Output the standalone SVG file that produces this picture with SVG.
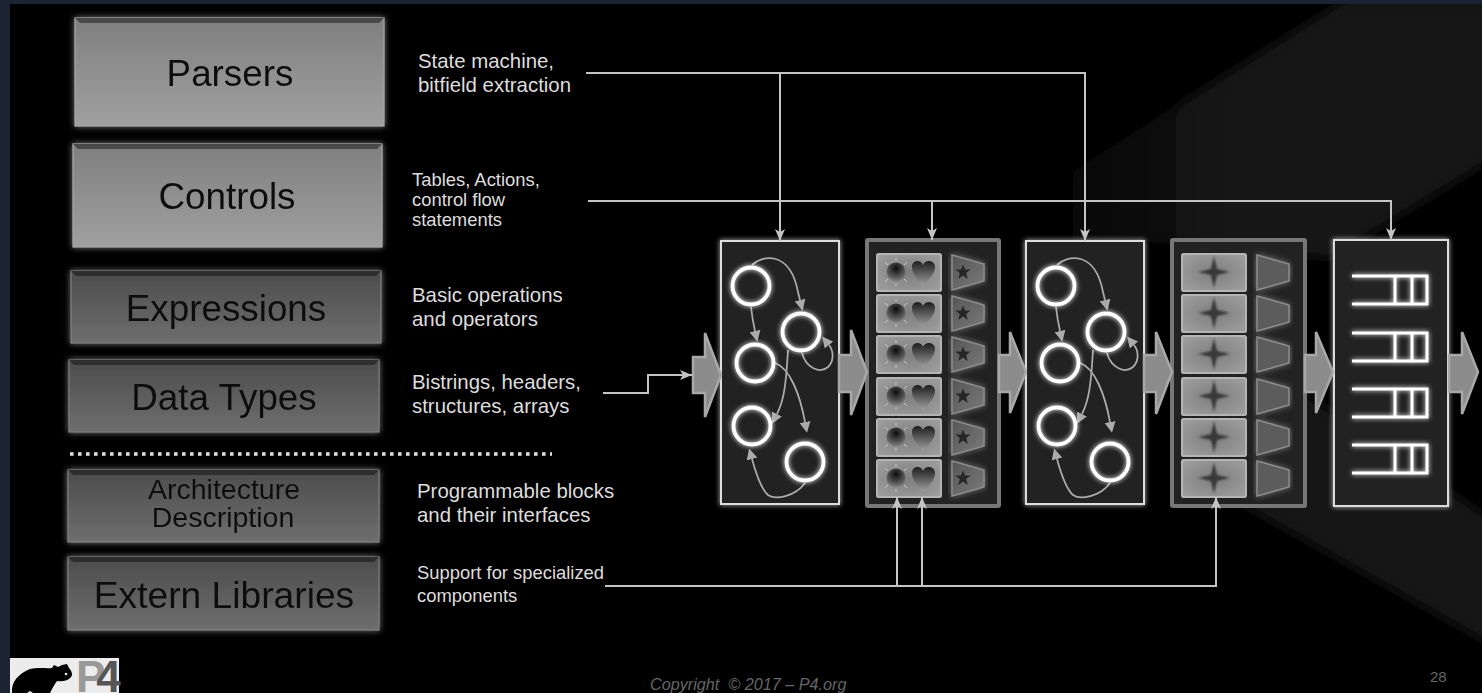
<svg xmlns="http://www.w3.org/2000/svg" width="1482" height="693" viewBox="0 0 1482 693">
<style>
text{font-family:"Liberation Sans",Arial,sans-serif}
.t36{font-size:36.8px;fill:#111;text-anchor:middle}
.t28{font-size:28.5px;fill:#111;text-anchor:middle}
.l20{font-size:20.4px;fill:#ddd}
.l18{font-size:18.4px;fill:#ddd}
.conn{fill:none;stroke:#c4c4c4;stroke-width:2}
.cur{fill:none;stroke:#aaa;stroke-width:1.8}
.st{fill:none;stroke:#fff;stroke-width:3.8}
.big{fill:#8c8c8c;stroke:#a8a8a8;stroke-width:2.5}
.cell{fill:url(#cellg);stroke:#b4b4b4;stroke-width:2}
.bev1{stroke:#a9a9a9;stroke-width:1.2;fill:url(#light)}
.bev2{stroke:#808080;stroke-width:1.2;fill:url(#dark)}
</style>
<defs>
<linearGradient id="light" x1="0" y1="0" x2="0" y2="1"><stop offset="0" stop-color="#7f7f7f"/><stop offset="1" stop-color="#a0a0a0"/></linearGradient>
<linearGradient id="dark" x1="0" y1="0" x2="0" y2="1"><stop offset="0" stop-color="#4c4c4c"/><stop offset="1" stop-color="#6e6e6e"/></linearGradient>
<radialGradient id="cellg" cx="0.5" cy="0.5" r="0.7"><stop offset="0" stop-color="#7e7e7e"/><stop offset="1" stop-color="#a0a0a0"/></radialGradient>
<linearGradient id="bgTop" gradientUnits="userSpaceOnUse" x1="1020" y1="0" x2="1230" y2="0"><stop offset="0" stop-color="#161616" stop-opacity="0"/><stop offset="1" stop-color="#161616"/></linearGradient>
<radialGradient id="sun" cx="0.5" cy="0.3" r="0.75"><stop offset="0" stop-color="#0c0c0c"/><stop offset="0.7" stop-color="#606060"/><stop offset="1" stop-color="#8e8e8e"/></radialGradient>
<linearGradient id="hrt" x1="0" y1="0" x2="0" y2="1"><stop offset="0" stop-color="#1e1e1e"/><stop offset="1" stop-color="#a0a0a0"/></linearGradient>
<linearGradient id="trg" x1="0" y1="0" x2="1" y2="1"><stop offset="0" stop-color="#555"/><stop offset="1" stop-color="#7a7a7a"/></linearGradient>
<filter id="fade" x="-10%" y="-10%" width="120%" height="120%"><feGaussianBlur stdDeviation="6"/></filter>
<filter id="blur1" x="-20%" y="-20%" width="140%" height="140%"><feGaussianBlur stdDeviation="0.9"/></filter>
<filter id="glow" x="-10%" y="-10%" width="120%" height="120%"><feGaussianBlur stdDeviation="2.5" result="b"/><feMerge><feMergeNode in="b"/><feMergeNode in="SourceGraphic"/></feMerge></filter>
<filter id="soft" x="-10%" y="-20%" width="120%" height="140%"><feGaussianBlur in="SourceAlpha" stdDeviation="3" result="a"/><feFlood flood-color="#777"/><feComposite in2="a" operator="in" result="c"/><feMerge><feMergeNode in="c"/><feMergeNode in="SourceGraphic"/></feMerge></filter>
<marker id="tri" markerUnits="userSpaceOnUse" viewBox="0 0 10 10" markerWidth="11" markerHeight="11" refX="0" refY="5" orient="auto"><path d="M0,0L10,5L0,10z" fill="#aaa"/></marker>
<marker id="head" markerUnits="userSpaceOnUse" viewBox="0 0 12 12" markerWidth="12" markerHeight="12" refX="12" refY="6" orient="auto"><path d="M0,1L12,6L0,11L3,6z" fill="#c4c4c4"/></marker>
<polygon id="star" points="0,-7.5 2,-2.4 7.5,-2.4 3.2,1 4.7,7 0,3.6 -4.7,7 -3.2,1 -7.5,-2.4 -2,-2.4"/>
<g id="fsm">
<rect x="721" y="241" width="118" height="263" fill="#222" stroke="#ddd" stroke-width="2" filter="url(#glow)"/>
<path class="cur" marker-end="url(#tri)" d="M752,265C762,255 790,250 798,292L800,300"/>
<path class="cur" marker-end="url(#tri)" d="M751,307C752,316 753,322 755,331"/>
<path class="cur" marker-end="url(#tri)" d="M802,353C806,368 820,374 828,367C835,360 833,350 829,345"/>
<path class="cur" marker-end="url(#tri)" d="M788,350C786,385 784,400 777,414"/>
<path class="cur" marker-end="url(#tri)" d="M775,363C790,368 800,395 805,422"/>
<path class="cur" marker-end="url(#tri)" d="M805,483C795,497 775,500 768,495C760,488 755,470 752,459"/>
<g filter="url(#glow)">
<circle class="st" cx="751" cy="286" r="18.5"/><circle class="st" cx="801" cy="332" r="18.5"/><circle class="st" cx="755" cy="363" r="18.5"/><circle class="st" cx="752" cy="426" r="18.5"/><circle class="st" cx="805" cy="462" r="18.5"/>
</g>
</g>
<g id="c1">
<rect class="cell" x="877" y="0" width="64" height="37" rx="1.5"/>
<circle cx="896" cy="18" r="9.5" fill="url(#sun)"/>
<path d="M896,4v3M896,29v3M885,8l3,3M907,8l-3,3M885,28l3,-3M907,28l-3,-3" stroke="#c8c8c8" stroke-width="1"/>
<path d="M923,32C917,25 912,20 912,13C912,6 921,5 923,11C925,5 935,6 935,13C935,20 929,25 923,32z" fill="url(#hrt)"/>
<polygon points="952,1 984,10 984,27 952,36" fill="url(#trg)" stroke="#8c8c8c" stroke-width="1.5" filter="url(#soft)"/>
<use href="#star" transform="translate(963,18)" fill="#262626"/>
</g>
<g id="c2">
<rect class="cell" x="1182" y="0" width="64" height="37" rx="1.5"/>
<path d="M1214,2L1217,15L1230,18L1217,21L1214,34L1211,21L1198,18L1211,15z" fill="#383838" filter="url(#blur1)"/>
<polygon points="1257,1 1289,10 1289,27 1257,36" fill="#5c5c5c" stroke="#8c8c8c" stroke-width="1.5" filter="url(#soft)"/>
</g>
<g id="dep">
<path d="M1352,0H1427V28H1352M1395,0V28M1412,0V28" fill="none" stroke="#fff" stroke-width="3"/>
</g>
</defs>
<rect width="1482" height="693" fill="#000"/>
<polygon points="1345,0 1500,0 1500,155 1330,258 1150,242 1000,242 1000,222 1090,160" fill="url(#bgTop)" filter="url(#fade)"/>
<polygon points="1180,470 1300,390 1500,525 1500,650" fill="#131313" filter="url(#fade)"/>
<rect width="1482" height="4" fill="#1b2432"/>
<rect y="0" width="10" height="693" fill="#1b2432"/>

<g id="parsers" filter="url(#soft)"><rect class="bev1" x="75" y="18" width="309" height="108"/><polygon points="75,18 384,18 379,23 80,23" fill="#4a4a4a"/><text class="t36" x="230" y="86">Parsers</text></g>
<g id="controls" filter="url(#soft)"><rect class="bev1" x="73" y="144" width="309" height="103"/><polygon points="73,144 382,144 377,149 78,149" fill="#4a4a4a"/><text class="t36" x="227" y="209">Controls</text></g>
<g id="expressions" filter="url(#soft)"><rect class="bev2" x="71" y="271" width="310" height="72"/><polygon points="71,271 381,271 376,276 76,276" fill="#2e2e2e"/><text class="t36" x="226" y="321">Expressions</text></g>
<g id="datatypes" filter="url(#soft)"><rect class="bev2" x="69" y="360" width="310" height="72"/><polygon points="69,360 379,360 374,365 74,365" fill="#2e2e2e"/><text class="t36" x="224" y="410">Data Types</text></g>
<line id="separator" x1="70" y1="454" x2="552" y2="454" stroke="#e0e0e0" stroke-width="3.6" stroke-dasharray="3.6 4.4"/>
<g id="architecture" filter="url(#soft)"><rect class="bev2" x="68" y="470" width="311" height="72"/><polygon points="68,470 379,470 374,475 73,475" fill="#2e2e2e"/><text class="t28" x="224" y="499">Architecture</text><text class="t28" x="223" y="527">Description</text></g>
<g id="extern" filter="url(#soft)"><rect class="bev2" x="68" y="557" width="311" height="73"/><polygon points="68,557 379,557 374,562 73,562" fill="#2e2e2e"/><text class="t36" x="224" y="608" style="font-size:37.2px">Extern Libraries</text></g>

<g id="labels">
<text class="l20" x="418" y="68">State machine,</text><text class="l20" x="418" y="92">bitfield extraction</text>
<text class="l18" x="412" y="186">Tables, Actions,</text><text class="l18" x="412" y="206">control flow</text><text class="l18" x="412" y="226">statements</text>
<text class="l20" x="412" y="302">Basic operations</text><text class="l20" x="412" y="326">and operators</text>
<text class="l20" x="412" y="389">Bistrings, headers,</text><text class="l20" x="412" y="413">structures, arrays</text>
<text class="l20" x="417" y="498">Programmable blocks</text><text class="l20" x="417" y="522">and their interfaces</text>
<text class="l18" x="417" y="579">Support for specialized</text><text class="l18" x="417" y="602">components</text>
</g>

<g id="parser1"><use href="#fsm"/></g>
<g id="parser2"><use href="#fsm" x="305"/></g>

<g id="match1">
<rect x="867" y="240" width="132" height="266" fill="#222" stroke="#777" stroke-width="4" rx="1"/>
<use href="#c1" y="254"/><use href="#c1" y="295"/><use href="#c1" y="336"/><use href="#c1" y="378"/><use href="#c1" y="419"/><use href="#c1" y="460"/>
</g>
<g id="match2">
<rect x="1172" y="240" width="133" height="266" fill="#222" stroke="#777" stroke-width="4" rx="1"/>
<use href="#c2" y="254"/><use href="#c2" y="295"/><use href="#c2" y="336"/><use href="#c2" y="378"/><use href="#c2" y="419"/><use href="#c2" y="460"/>
</g>
<g id="deparser">
<rect x="1334" y="240" width="114" height="266" fill="#222" stroke="#ddd" stroke-width="2" filter="url(#glow)"/>
<g filter="url(#glow)"><use href="#dep" y="276"/><use href="#dep" y="333"/><use href="#dep" y="389"/><use href="#dep" y="445"/></g>
</g>

<g id="flow">
<polygon class="big" points="693,357 705,357 705,333 721,375 705,417 705,393 693,393"/>
<polygon class="big" points="839,355 851,355 851,330 867,372 851,415 851,392 839,392"/>
<polygon class="big" points="999,355 1010,355 1010,332 1026,372 1010,413 1010,392 999,392"/>
<polygon class="big" points="1144,355 1156,355 1156,332 1172,372 1156,414 1156,392 1144,392"/>
<polygon class="big" points="1305,355 1316,355 1316,332 1333,372 1316,413 1316,392 1305,392"/>
<polygon class="big" points="1449,355 1462,355 1462,332 1478,372 1462,414 1462,392 1449,392"/>
</g>

<g id="connectors">
<path class="conn" d="M586,73H1085V241" marker-end="url(#head)"/>
<path class="conn" d="M780,73V241" marker-end="url(#head)"/>
<path class="conn" d="M588,201H1391V240" marker-end="url(#head)"/>
<path class="conn" d="M932,201V240" marker-end="url(#head)"/>
<path class="conn" d="M603,393H648V375H692" marker-end="url(#head)"/>
<path class="conn" d="M605,586H1216V497" marker-end="url(#head)"/>
<path class="conn" d="M897,586V497" marker-end="url(#head)"/>
<path class="conn" d="M922,586V497" marker-end="url(#head)"/>
</g>

<g id="logo">
<rect x="10" y="658" width="109" height="35" fill="#ececec"/>
<path d="M12,693C11,682 18,674 30,669C40,667 47,669 52,668L54,665L58,667L62,665L67,664L69,668C72,671 73,675 71,677C68,681 62,682 57,681C54,685 52,689 50,693H33L30,691L27,693z" fill="#000"/>
<circle cx="66" cy="674" r="1.3" fill="#ececec"/>
<text x="76" y="692" font-size="44" font-weight="bold" letter-spacing="-9"><tspan fill="#999">P</tspan><tspan fill="#555">4</tspan></text>
</g>
<text id="copyright" x="650" y="690" font-size="16.2" font-style="italic" fill="#666" xml:space="preserve">Copyright  © 2017 – P4.org</text>
<text id="page" x="1430" y="682" font-size="15" fill="#666">28</text>
</svg>
